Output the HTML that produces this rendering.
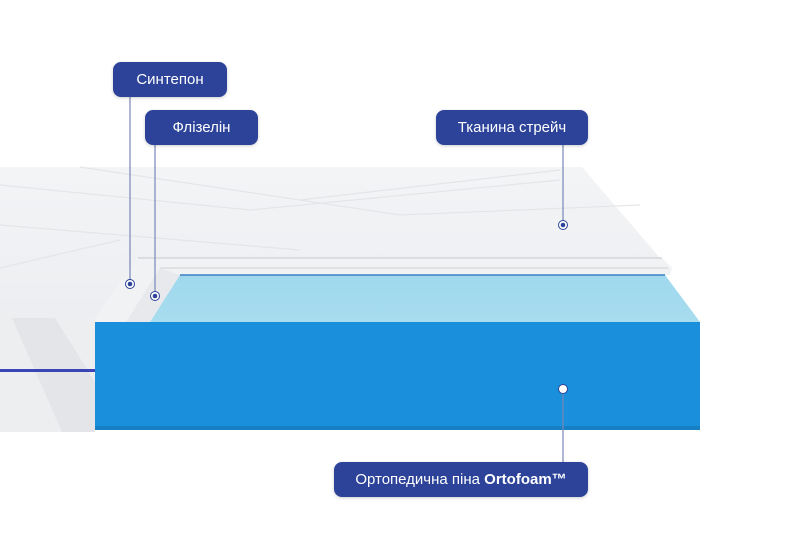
<!DOCTYPE html>
<html><head><meta charset="utf-8"><style>
html,body{margin:0;padding:0;background:#fff;}
body{width:800px;height:560px;position:relative;overflow:hidden;font-family:"Liberation Sans","DejaVu Sans",sans-serif;}
.lbl{position:absolute;background:#2c4399;color:#fff;border-radius:8px;font-size:15px;display:flex;align-items:center;justify-content:center;box-shadow:0 1px 3px rgba(0,0,0,.2);}
svg{position:absolute;left:0;top:0;}
</style></head><body>
<svg width="800" height="560" viewBox="0 0 800 560">
<defs>
<linearGradient id="top" x1="0" y1="0" x2="0" y2="1"><stop offset="0" stop-color="#f3f4f6"/><stop offset="1" stop-color="#eceef1"/></linearGradient>
<linearGradient id="bt" x1="0" y1="0" x2="0" y2="1"><stop offset="0" stop-color="#9fd8ee"/><stop offset="1" stop-color="#a8dcef"/></linearGradient>
</defs>
<!-- left side of mattress -->
<polygon points="0,312 95,318 95,432 0,432" fill="#eceef0"/>
<polygon points="12,318 55,318 95,382 95,432 62,432" fill="#e3e5e8"/>
<rect x="0" y="369" width="95" height="3" fill="#3b45b5"/>
<!-- top cover -->
<polygon points="0,167 582,167 660,258 138,258 95,318 0,312" fill="url(#top)"/>
<path d="M0,185 L250,210 L560,180 M0,225 L300,250 M80,167 L400,215 L640,205 M0,268 L120,240 M300,200 L560,170" stroke="#e3e5e9" stroke-width="1.2" fill="none"/>
<!-- white layers -->
<polygon points="138,258 662,258 672,268 670,275 180,275 150,322 95,322 95,318" fill="#f1f2f4"/>
<line x1="138" y1="258" x2="662" y2="258" stroke="#d4d6da" stroke-width="1.5"/>
<line x1="160" y1="268" x2="668" y2="268" stroke="#cdd0d5" stroke-width="1"/>
<polygon points="160,268 180,275 150,322 126,322" fill="#e7e9ec"/>
<!-- blue foam -->
<polygon points="180,275 665,275 700,322 150,322" fill="url(#bt)"/>
<line x1="180" y1="275" x2="665" y2="275" stroke="#3d7fc4" stroke-width="1.5"/>
<rect x="95" y="322" width="605" height="108" fill="#1a8fdc"/>
<rect x="95" y="426" width="605" height="4" fill="#177fc4"/>
<!-- leader lines -->
<g stroke="#7a86b8" stroke-width="1.2">
<line x1="130" y1="97" x2="130" y2="284"/>
<line x1="155" y1="145" x2="155" y2="296"/>
<line x1="563" y1="145" x2="563" y2="225"/>
<line x1="563" y1="389" x2="563" y2="462"/>
</g>
<g fill="#fff" stroke="#2c4399" stroke-width="1"><circle cx="130" cy="284" r="4.5"/><circle cx="155" cy="296" r="4.5"/><circle cx="563" cy="225" r="4.5"/><circle cx="563" cy="389" r="4.5"/></g>
<g fill="#2c4399"><circle cx="130" cy="284" r="2.3"/><circle cx="155" cy="296" r="2.3"/><circle cx="563" cy="225" r="2.3"/></g>
</svg>
<div class="lbl" style="left:113px;top:62px;width:114px;height:35px;">Синтепон</div>
<div class="lbl" style="left:145px;top:110px;width:113px;height:35px;">Флізелін</div>
<div class="lbl" style="left:436px;top:110px;width:152px;height:35px;">Тканина стрейч</div>
<div class="lbl" style="left:334px;top:462px;width:254px;height:35px;">Ортопедична піна&nbsp;<b>Ortofoam™</b></div>
</body></html>
